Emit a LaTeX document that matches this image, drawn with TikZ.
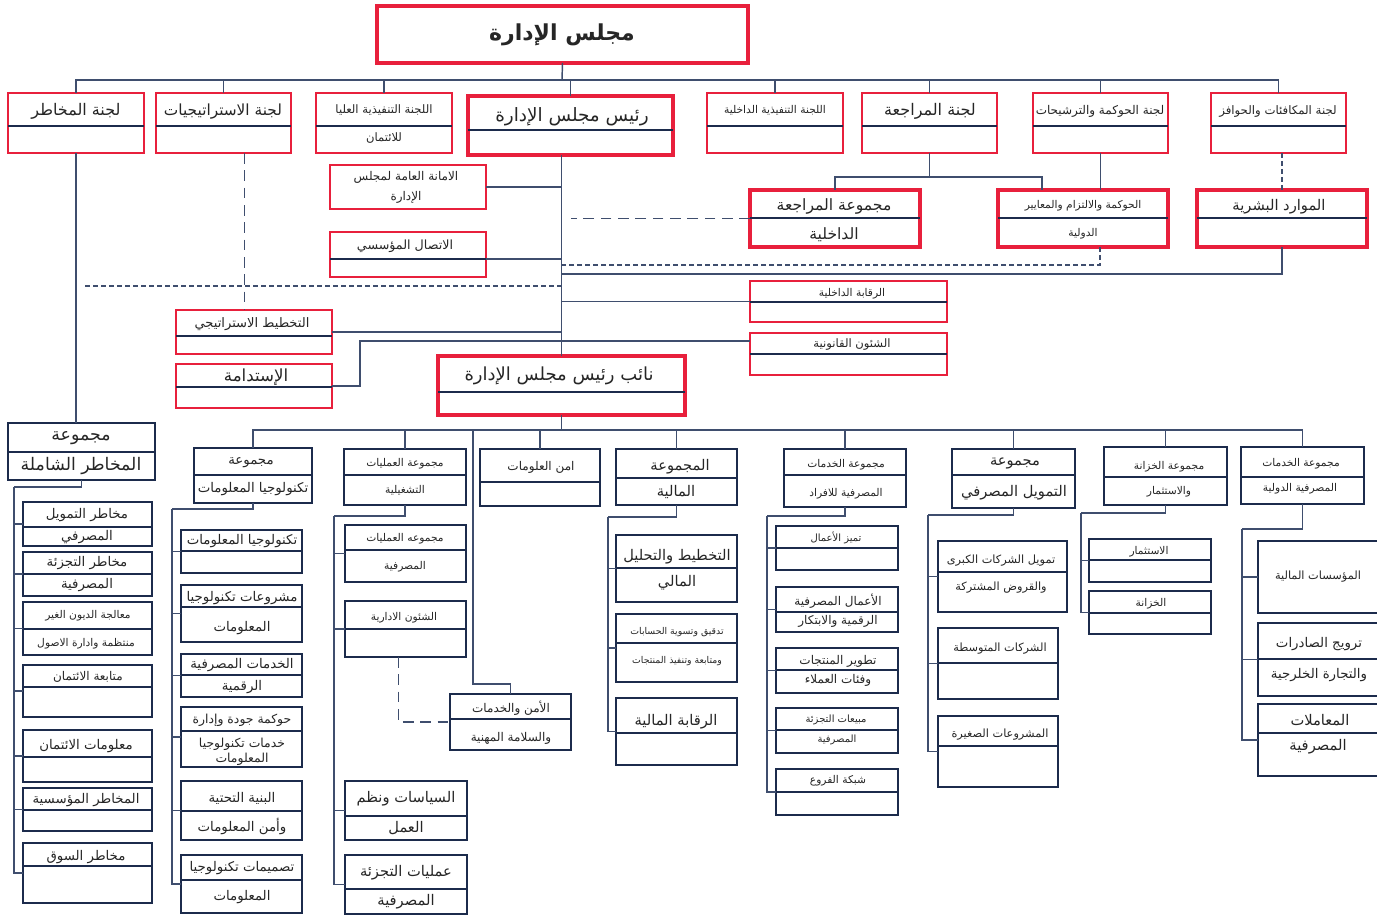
\documentclass[tikz,border=0pt]{standalone}
\usepackage{fontspec}
\newfontfamily\arabicfont[Script=Arabic]{DejaVu Sans}
\TeXXeTstate=1
\usetikzlibrary{calc}
\definecolor{boardred}{HTML}{E8203C}
\definecolor{deepnavy}{HTML}{1C2B4C}
\definecolor{linknavy}{HTML}{3F4E6E}
\definecolor{inkgrey}{HTML}{262626}
\newcommand{\ar}[1]{\beginR #1\endR}
% box by corners: style, name, left, top, right, bottom, divider
\newcommand{\obox}[7]{%
  \node[#1, minimum width={(#5-(#3))*0.75pt}, minimum height={(#6-(#4))*0.75pt}] (#2) at ({(#3+#5)/2},{(#4+#6)/2}) {};
  \ifx\relax#7\relax\else\draw[divider] (#3,#7) -- (#5,#7);\fi}
\begin{document}
\begin{tikzpicture}[x=0.75pt,y=0.75pt,yscale=-1,xscale=1,
  redthick/.style={draw=boardred,fill=white,line width=2.8pt,inner sep=0pt,outer sep=0pt},
  redbox/.style={draw=boardred,fill=white,line width=2pt,inner sep=0pt,outer sep=0pt},
  navybox/.style={draw=deepnavy,fill=white,line width=2pt,inner sep=0pt,outer sep=0pt},
  divider/.style={draw=deepnavy,line width=0.8pt},
  conn/.style={draw=linknavy,line width=1.1pt},
  dashconn/.style={conn,dash pattern=on 8pt off 5pt},
  dotconn/.style={conn,dash pattern=on 3.5pt off 2.5pt},
  txt/.style={inner sep=0pt,text=inkgrey,yshift=-1pt},
  fs/.style={font=\arabicfont\fontsize{#1}{#1}\selectfont}]
\useasboundingbox[fill=white] (0,0) rectangle (1377,920);

%Shape: Rectangle (board and committees)
\obox{redthick}{board}{377}{6}{748}{63}{}
\obox{redbox}{c1}{8}{93}{144}{153}{126}
\obox{redbox}{c2}{156}{93}{291}{153}{126}
\obox{redbox}{c3}{316}{93}{452}{153}{126}
\obox{redthick}{chair}{468}{96}{673}{155}{130}
\obox{redbox}{c5}{707}{93}{843}{153}{126}
\obox{redbox}{c6}{862}{93}{997}{153}{126}
\obox{redbox}{c7}{1033}{93}{1168}{153}{126}
\obox{redbox}{c8}{1211}{93}{1346}{153}{126}

\obox{redthick}{audgrp}{750}{190}{920}{247}{218}
\obox{redthick}{govstd}{998}{190}{1168}{247}{218}
\obox{redthick}{hr}{1197}{190}{1367}{247}{218}

\obox{redbox}{secr}{330}{165}{486}{209}{}
\obox{redbox}{comm}{330}{232}{486}{277}{259}
\obox{redbox}{strat}{176}{310}{332}{354}{336}
\obox{redbox}{sust}{176}{364}{332}{408}{387}
\obox{redbox}{intctl}{750}{281}{947}{322}{302}
\obox{redbox}{legal}{750}{333}{947}{375}{354}
\obox{redthick}{deputy}{438}{356}{685}{415}{392}

%Shape: Rectangle (groups)
\obox{navybox}{riskgrp}{8}{423}{155}{480}{452}
\obox{navybox}{rk1}{23}{502}{152}{546}{527}
\obox{navybox}{rk2}{23}{552}{152}{596}{574}
\obox{navybox}{rk3}{23}{602}{152}{655}{629}
\obox{navybox}{rk4}{23}{665}{152}{717}{687}
\obox{navybox}{rk5}{23}{730}{152}{782}{757}
\obox{navybox}{rk6}{23}{788}{152}{831}{810}
\obox{navybox}{rk7}{23}{843}{152}{903}{866}

\obox{navybox}{itgrp}{194}{448}{312}{503}{475}
\obox{navybox}{it1}{181}{530}{302}{573}{551}
\obox{navybox}{it2}{181}{585}{302}{642}{607}
\obox{navybox}{it3}{181}{654}{302}{697}{675}
\obox{navybox}{it4}{181}{707}{302}{767}{731}
\obox{navybox}{it5}{181}{781}{302}{840}{811}
\obox{navybox}{it6}{181}{855}{302}{913}{880}

\obox{navybox}{opgrp}{344}{449}{466}{505}{475}
\obox{navybox}{op1}{345}{525}{466}{582}{550}
\obox{navybox}{op2}{345}{601}{466}{657}{629}
\obox{navybox}{op3}{345}{781}{467}{840}{816}
\obox{navybox}{op4}{345}{855}{467}{914}{889}
\obox{navybox}{infosec}{480}{449}{600}{506}{482}
\obox{navybox}{safety}{450}{694}{571}{750}{719}

\obox{navybox}{fingrp}{616}{449}{737}{505}{478}
\obox{navybox}{fn1}{616}{535}{737}{602}{568}
\obox{navybox}{fn2}{616}{614}{737}{682}{643}
\obox{navybox}{fn3}{616}{698}{737}{765}{733}

\obox{navybox}{rtgrp}{784}{449}{906}{507}{475}
\obox{navybox}{rt1}{776}{526}{898}{570}{548}
\obox{navybox}{rt2}{776}{587}{898}{632}{612}
\obox{navybox}{rt3}{776}{648}{898}{693}{670}
\obox{navybox}{rt4}{776}{708}{898}{753}{730}
\obox{navybox}{rt5}{776}{769}{898}{815}{792}

\obox{navybox}{cfgrp}{952}{449}{1075}{508}{475}
\obox{navybox}{cf1}{938}{541}{1067}{612}{572}
\obox{navybox}{cf2}{938}{628}{1058}{699}{663}
\obox{navybox}{cf3}{938}{716}{1058}{787}{746}

\obox{navybox}{trgrp}{1104}{447}{1227}{505}{477}
\obox{navybox}{tr1}{1089}{539}{1211}{582}{560}
\obox{navybox}{tr2}{1089}{591}{1211}{634}{613}

\obox{navybox}{ingrp}{1241}{447}{1364}{504}{477}
\obox{navybox}{in1}{1258}{541}{1382}{613}{}
\obox{navybox}{in2}{1258}{623}{1382}{696}{659}
\obox{navybox}{in3}{1258}{704}{1382}{776}{733}

% Text Node
\node[txt,fs=16.5] (board-t) at (562,33) {\bfseries\ar{مجلس الإدارة}};
\node[txt,fs=12] (c1-t) at (76,110) {\ar{لجنة المخاطر}};
\node[txt,fs=11.5] (c2-t) at (223,110) {\ar{لجنة الاستراتيجيات}};
\node[txt,fs=8.7] (c3-t) at (384,109) {\ar{اللجنة التنفيذية العليا}};
\node[txt,fs=8.7] (c3-b) at (384,137) {\ar{للائتمان}};
\node[txt,fs=13.8] (chair-t) at (572,115) {\ar{رئيس مجلس الإدارة}};
\node[txt,fs=8] (c5-t) at (775,109) {\ar{اللجنة التنفيذية الداخلية}};
\node[txt,fs=12] (c6-t) at (930,110) {\ar{لجنة المراجعة}};
\node[txt,fs=9] (c7-t) at (1100,110) {\ar{لجنة الحوكمة والترشيحات}};
\node[txt,fs=8.8] (c8-t) at (1278,110) {\ar{لجنة المكافئات والحوافز}};

\node[txt,fs=11.7] (audgrp-t) at (834,205) {\ar{مجموعة المراجعة}};
\node[txt,fs=11.7] (audgrp-b) at (834,233) {\ar{الداخلية}};
\node[txt,fs=8] (govstd-t) at (1083,204) {\ar{الحوكمة والالتزام والمعايير}};
\node[txt,fs=8] (govstd-b) at (1083,232) {\ar{الدولية}};
\node[txt,fs=11] (hr-t) at (1279,205) {\ar{الموارد البشرية}};

\node[txt,fs=9] (secr-t) at (406,176) {\ar{الامانة العامة لمجلس}};
\node[txt,fs=9] (secr-b) at (406,196) {\ar{الإدارة}};
\node[txt,fs=9.5] (comm-t) at (405,245) {\ar{الاتصال المؤسسي}};
\node[txt,fs=9.8] (strat-t) at (252,323) {\ar{التخطيط الاستراتيجي}};
\node[txt,fs=12.5] (sust-t) at (256,376) {\ar{الإستدامة}};
\node[txt,fs=8] (intctl-t) at (852,292) {\ar{الرقابة الداخلية}};
\node[txt,fs=8.7] (legal-t) at (852,343) {\ar{الشئون القانونية}};
\node[txt,fs=13.5] (deputy-t) at (559,375) {\ar{نائب رئيس مجلس الإدارة}};

\node[txt,fs=13] (riskgrp-t) at (81,437) {\ar{مجموعة}};
\node[txt,fs=13] (riskgrp-b) at (81,465) {\ar{المخاطر الشاملة}};
\node[txt,fs=10] (rk1-t) at (87,514) {\ar{مخاطر التمويل}};
\node[txt,fs=10] (rk1-b) at (87,536) {\ar{المصرفي}};
\node[txt,fs=10] (rk2-t) at (87,562) {\ar{مخاطر التجزئة}};
\node[txt,fs=10] (rk2-b) at (87,584) {\ar{المصرفية}};
\node[txt,fs=8] (rk3-t) at (88,614) {\ar{معالجة الديون الغير}};
\node[txt,fs=8] (rk3-b) at (86,642) {\ar{منتظمة وادارة الاصول}};
\node[txt,fs=9] (rk4-t) at (88,676) {\ar{متابعة الائتمان}};
\node[txt,fs=10] (rk5-t) at (86,745) {\ar{معلومات الائتمان}};
\node[txt,fs=10] (rk6-t) at (86,799) {\ar{المخاطر المؤسسية}};
\node[txt,fs=10] (rk7-t) at (86,856) {\ar{مخاطر السوق}};

\node[txt,fs=10] (itgrp-t) at (251,461) {\ar{مجموعة}};
\node[txt,fs=10] (itgrp-b) at (253,488) {\ar{تكنولوجيا المعلومات}};
\node[txt,fs=10] (it1-t) at (242,540) {\ar{تكنولوجيا المعلومات}};
\node[txt,fs=10] (it2-t) at (242,597) {\ar{مشروعات تكنولوجيا}};
\node[txt,fs=10] (it2-b) at (242,627) {\ar{المعلومات}};
\node[txt,fs=10] (it3-t) at (242,664) {\ar{الخدمات المصرفية}};
\node[txt,fs=10] (it3-b) at (242,686) {\ar{الرقمية}};
\node[txt,fs=9.3] (it4-t) at (242,719) {\ar{حوكمة جودة وإدارة}};
\node[txt,fs=9.3] (it4-m) at (242,743) {\ar{خدمات تكنولوجيا}};
\node[txt,fs=9.3] (it4-b) at (242,758) {\ar{المعلومات}};
\node[txt,fs=10] (it5-t) at (242,797) {\ar{البنية التحتية}};
\node[txt,fs=10] (it5-b) at (242,825) {\ar{وأمن المعلومات}};
\node[txt,fs=10] (it6-t) at (242,867) {\ar{تصميمات تكنولوجيا}};
\node[txt,fs=10] (it6-b) at (242,896) {\ar{المعلومات}};

\node[txt,fs=8] (opgrp-t) at (405,462) {\ar{مجموعة العمليات}};
\node[txt,fs=8] (opgrp-b) at (405,489) {\ar{التشغيلية}};
\node[txt,fs=8] (op1-t) at (405,537) {\ar{مجموعه العمليات}};
\node[txt,fs=8] (op1-b) at (405,565) {\ar{المصرفية}};
\node[txt,fs=8] (op2-t) at (404,616) {\ar{الشئون الادارية}};
\node[txt,fs=11] (op3-t) at (406,797) {\ar{السياسات ونظم}};
\node[txt,fs=11] (op3-b) at (406,827) {\ar{العمل}};
\node[txt,fs=11] (op4-t) at (406,871) {\ar{عمليات التجزئة}};
\node[txt,fs=11] (op4-b) at (406,900) {\ar{المصرفية}};
\node[txt,fs=9] (infosec-t) at (541,466) {\ar{امن العلومات}};
\node[txt,fs=9] (safety-t) at (511,707) {\ar{الأمن والخدمات}};
\node[txt,fs=9] (safety-b) at (511,737) {\ar{والسلامة المهنية}};

\node[txt,fs=11] (fingrp-t) at (680,465) {\ar{المجموعة}};
\node[txt,fs=11] (fingrp-b) at (676,491) {\ar{المالية}};
\node[txt,fs=11] (fn1-t) at (677,555) {\ar{التخطيط والتحليل}};
\node[txt,fs=11] (fn1-b) at (677,581) {\ar{المالي}};
\node[txt,fs=7] (fn2-t) at (677,631) {\ar{تدقيق وتسوية الحسابات}};
\node[txt,fs=7] (fn2-b) at (677,660) {\ar{ومتابعة وتنفيذ المنتجات}};
\node[txt,fs=11] (fn3-t) at (676,720) {\ar{الرقابة المالية}};

\node[txt,fs=8] (rtgrp-t) at (846,463) {\ar{مجموعة الخدمات}};
\node[txt,fs=8] (rtgrp-b) at (846,492) {\ar{المصرفية للافراد}};
\node[txt,fs=7.5] (rt1-t) at (836,537) {\ar{تميز الأعمال}};
\node[txt,fs=9] (rt2-t) at (838,600) {\ar{الأعمال المصرفية}};
\node[txt,fs=9] (rt2-b) at (838,620) {\ar{الرقمية والابتكار}};
\node[txt,fs=9] (rt3-t) at (838,660) {\ar{تطوير المنتجات}};
\node[txt,fs=9] (rt3-b) at (838,679) {\ar{وفئات العملاء}};
\node[txt,fs=7.5] (rt4-t) at (836,719) {\ar{مبيعات التجزئة}};
\node[txt,fs=7.5] (rt4-b) at (837,739) {\ar{المصرفية}};
\node[txt,fs=8] (rt5-t) at (838,779) {\ar{شبكة الفروع}};

\node[txt,fs=11] (cfgrp-t) at (1015,462) {\ar{مجموعة}};
\node[txt,fs=11] (cfgrp-b) at (1014,491) {\ar{التمويل المصرفي}};
\node[txt,fs=8.5] (cf1-t) at (1001,559) {\ar{تمويل الشركات الكبرى}};
\node[txt,fs=8.5] (cf1-b) at (1001,586) {\ar{والقروض المشتركة}};
\node[txt,fs=8.5] (cf2-t) at (1000,647) {\ar{الشركات المتوسطة}};
\node[txt,fs=8.5] (cf3-t) at (1000,733) {\ar{المشروعات الصغيرة}};

\node[txt,fs=8] (trgrp-t) at (1169,465) {\ar{مجموعة الخزانة}};
\node[txt,fs=8] (trgrp-b) at (1169,490) {\ar{والاستثمار}};
\node[txt,fs=8] (tr1-t) at (1149,550) {\ar{الاستثمار}};
\node[txt,fs=8] (tr2-t) at (1151,602) {\ar{الخزانة}};

\node[txt,fs=8] (ingrp-t) at (1301,462) {\ar{مجموعة الخدمات}};
\node[txt,fs=8] (ingrp-b) at (1300,487) {\ar{المصرفية الدولية}};
\node[txt,fs=8.5] (in1-t) at (1318,575) {\ar{المؤسسات المالية}};
\node[txt,fs=10] (in2-t) at (1319,643) {\ar{ترويج الصادرات}};
\node[txt,fs=10] (in2-b) at (1319,674) {\ar{والتجارة الخلرجية}};
\node[txt,fs=11] (in3-t) at (1320,719) {\ar{المعاملات}};
\node[txt,fs=11] (in3-b) at (1318,745) {\ar{المصرفية}};

%Straight Lines (board level)
\coordinate (bus1) at (562,80);
\draw[conn] (board.south) -- (bus1);
\foreach \n in {c1,c2,c3,chair,c5,c6,c7,c8} \draw[conn] (bus1) -| (\n.north);
\draw[conn] (c6.south) -- ++(0,24) coordinate (bus2);
\draw[conn] (bus2) -| (audgrp.north);
\draw[conn] (bus2) -| ($(govstd.north)+(-41,0)$);
\draw[conn] (c7.south) -- (c7.south |- govstd.north);
\draw[dotconn] (hr.north |- c8.south) -- (hr.north);
\draw[conn] (hr.south) -- ++(0,27) coordinate (hrk) -- (hrk -| deputy.north);
\draw[dotconn] ($(govstd.south)+(17,0)$) -- ++(0,18) coordinate (gsk) -- (gsk -| deputy.north);
\draw[dashconn] (audgrp.west) -- ++(-179,0);

%Straight Lines (chairman spine)
\draw[conn] (deputy.north) -- (deputy.north |- chair.south);
\draw[conn] (secr.east) -- (secr.east -| deputy.north);
\draw[conn] ($(comm.east)+(0,4.5)$) coordinate (cmk) -- (cmk -| deputy.north);
\draw[conn] (strat.east) -- (strat.east -| deputy.north);
\draw[conn] (intctl.west) -- (intctl.west -| deputy.north);
\draw[conn] (sust.east) -- ++(28,0) |- ($(legal.west)+(0,-13)$);
\draw[dashconn] ($(c2.south)+(21,0)$) coordinate (sgk) -- (sgk |- strat.north);
\draw[dotconn] ($(deputy.north |- intctl.north)+(0,5)$) coordinate (rdk) -- ($(rdk -| c1.south)+(6,0)$);
\draw[conn] (c1.south) -- (c1.south |- riskgrp.north);

%Straight Lines (groups)
\draw[conn] (deputy.south) -- ++(0,15) coordinate (bus3);
\foreach \g in {itgrp,opgrp,infosec,fingrp,rtgrp,cfgrp,trgrp,ingrp} \draw[conn] (bus3) -| (\g.north);
\draw[conn] ($(bus3 -| safety.west)+(23,0)$) |- ($(safety.north)+(0,-10)$) -- (safety.north);
\draw[dashconn] ($(op2.south)+(-7,0)$) |- (safety.west);

\coordinate (rkrail) at (14,487);
\coordinate (itrail) at (172,509);
\coordinate (oprail) at (334,516);
\coordinate (fnrail) at (608,517);
\coordinate (rtrail) at (767,516);
\coordinate (cfrail) at (928,515);
\coordinate (trrail) at (1081,513);
\coordinate (inrail) at (1242,529);
\draw[conn] (riskgrp.south) |- (rkrail);
\draw[conn] (itgrp.south) |- (itrail);
\draw[conn] (opgrp.south) |- (oprail);
\draw[conn] (fingrp.south) |- (fnrail);
\draw[conn] (rtgrp.south) |- (rtrail);
\draw[conn] (cfgrp.south) |- (cfrail);
\draw[conn] (trgrp.south) |- (trrail);
\draw[conn] (ingrp.south) |- (inrail);
\foreach \i in {1,...,7} \draw[conn] (rkrail) |- (rk\i.west);
\foreach \i in {1,...,6} \draw[conn] (itrail) |- (it\i.west);
\foreach \i in {1,...,4} \draw[conn] (oprail) |- (op\i.west);
\foreach \i in {1,...,3} \draw[conn] (fnrail) |- (fn\i.west);
\foreach \i in {1,...,5} \draw[conn] (rtrail) |- (rt\i.west);
\foreach \i in {1,...,3} \draw[conn] (cfrail) |- (cf\i.west);
\foreach \i in {1,2} \draw[conn] (trrail) |- (tr\i.west);
\foreach \i in {1,...,3} \draw[conn] (inrail) |- (in\i.west);
\end{tikzpicture}
\end{document}
